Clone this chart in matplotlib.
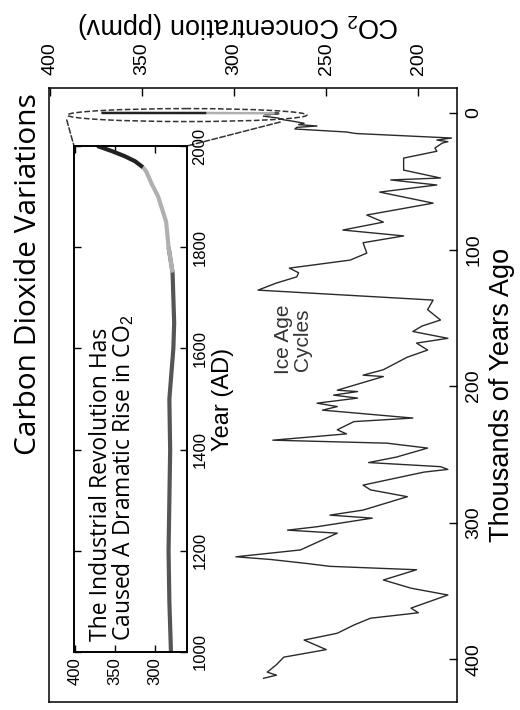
import matplotlib
matplotlib.use('Agg')
import matplotlib.pyplot as plt
from matplotlib.patches import Ellipse, ConnectionPatch

plt.rcParams['font.family'] = ['Liberation Sans', 'DejaVu Sans']
plt.rcParams['mathtext.fontset'] = 'custom'
plt.rcParams['mathtext.rm'] = 'Liberation Sans'

# Vostok ice core: thousands of years ago / CO2 (ppmv)
vostok_kyr = [2.3, 3.7, 5.0, 6.0, 7.5, 8.5, 9.5, 10.5, 11.7, 13.9, 15.0, 18.3,
              19.8, 21.0, 22.0, 25.6, 28.0, 33.0, 41.8, 47.6, 49.0, 52.7, 57.9,
              66.0, 74.7, 79.9, 85.7, 90.0, 95.0, 102.6, 107.7, 113.6, 117.0,
              120.0, 124.5, 129.7, 137.0, 144.0, 151.6, 156.0, 160.0, 165.0,
              168.5, 173.6, 178.8, 188.0, 192.0, 193.0, 203.0, 204.0, 206.6,
              208.8, 212.5, 215.0, 217.6, 223.4, 226.0, 232.0, 235.0, 239.6,
              241.8, 245.4, 252.0, 256.0, 259.0, 261.0, 263.0, 272.5, 276.0,
              281.0, 290.8, 294.5, 296.7, 303.0, 305.5, 307.7, 320.0, 325.0,
              327.0, 330.0, 332.0, 334.5, 342.0, 348.0, 353.0, 362.6, 366.0,
              370.0, 375.0, 381.0, 386.0, 393.0, 398.5, 404.0, 409.5, 411.7,
              414.0]
vostok_co2 = [284, 276, 273, 268, 262, 265, 255, 266, 267, 239, 234, 182,
              190, 184, 187, 191, 190, 208, 208, 188, 215, 190, 221,
              192, 228, 219, 241, 208, 230, 228, 237, 270, 265,
              266, 277, 287, 192, 195, 188, 198, 203, 184,
              201, 195, 206, 219, 230, 219, 244, 233, 246,
              233, 255, 244, 252, 203, 235, 244, 239, 279,
              217, 195, 212, 227, 188, 184, 197, 230, 226,
              206, 230, 248, 225, 255, 271, 244, 264, 299,
              280, 260, 248, 201, 219, 204, 184, 204, 200,
              226, 235, 244, 262, 250, 273, 277, 282, 277,
              284]

# recent record (year AD / CO2 ppmv)
core_year = [1000, 1100, 1200, 1300, 1400, 1500, 1600, 1650, 1700, 1750, 1800]
core_co2 = [280, 282, 283, 282, 281, 282, 277, 276, 277, 278, 283]
firn_year = [1750, 1800, 1850, 1900, 1925, 1950, 1958]
firn_co2 = [278, 283, 286, 296, 304, 311, 315]
mlo_year = [1958, 1970, 1980, 1990, 2000]
mlo_co2 = [315, 325, 338, 354, 372]

fig = plt.figure(figsize=(5.2, 7.1), dpi=100)

ax = fig.add_axes([0.094, 0.011, 0.785, 0.865])
ax.plot(vostok_co2, vostok_kyr, color='#2a2a2a', lw=1.0)
# the recent record squeezed at ~0 kyr
ax.plot(core_co2, [(1950 - y) / 1000 for y in core_year], color='#555555', lw=1.8, solid_capstyle='butt')
ax.plot(firn_co2, [(1950 - y) / 1000 for y in firn_year], color='#b0b0b0', lw=1.8, solid_capstyle='butt')
ax.plot(mlo_co2, [(1950 - y) / 1000 for y in mlo_year], color='#222222', lw=1.8, solid_capstyle='butt')

ax.set_xlim(400.5, 179)
ax.set_ylim(431.5, -18.3)
ax.set_xticks([400, 350, 300, 250, 200])
ax.set_yticks([0, 100, 200, 300, 400])
ax.xaxis.tick_top()
ax.xaxis.set_label_position('top')
ax.yaxis.tick_right()
ax.yaxis.set_label_position('right')
ax.tick_params(direction='in', length=6, width=1, labelsize=14)
ax.tick_params(axis='x', labelrotation=90, pad=9.5)
ax.tick_params(axis='y', labelrotation=90, pad=6)
for lab in ax.get_yticklabels():
    lab.set_va('center')
ax.set_xlabel('CO$_2$ Concentration (ppmv)', rotation=180, fontsize=19.5, labelpad=7)
ax.xaxis.label.set_x(0.465)
ax.set_ylabel('Thousands of Years Ago', rotation=90, fontsize=19.5, labelpad=5)
for sp in ax.spines.values():
    sp.set_linewidth(1.1)

ax.text(268, 166, 'Ice Age\nCycles', rotation=90, ha='center', va='center',
        fontsize=15, multialignment='center', color='#333333', linespacing=1.0)

ell = Ellipse((325.5, 1.5), width=130, height=9.5, fill=False, ls='--',
              lw=1.1, ec='#333333', clip_on=False)
ax.add_patch(ell)

# inset
ax_in = fig.add_axes([0.1423, 0.0817, 0.2173, 0.7127], zorder=3)
ax_in.plot(core_co2, core_year, color='#555555', lw=3, solid_capstyle='butt')
ax_in.plot(firn_co2, firn_year, color='#b0b0b0', lw=3, solid_capstyle='butt')
ax_in.plot(mlo_co2, mlo_year, color='#222222', lw=3, solid_capstyle='butt')
ax_in.set_xlim(401, 260)
ax_in.set_ylim(1000, 2000)
ax_in.set_xticks([400, 350, 300])
ax_in.set_yticks([1000, 1200, 1400, 1600, 1800, 2000])
ax_in.yaxis.set_label_position('right')
ax_in.tick_params(direction='in', length=5, width=1, labelsize=12,
                  top=True, bottom=True, left=True, right=True,
                  labelleft=False, labelright=True)
ax_in.tick_params(axis='x', labelrotation=90, pad=4)
ax_in.tick_params(axis='y', labelrotation=90, pad=4)
for lab in ax_in.get_yticklabels():
    lab.set_va('center')
ax_in.set_ylabel('Year (AD)', rotation=90, fontsize=17, labelpad=3)
for sp in ax_in.spines.values():
    sp.set_linewidth(1.4)
ax_in.text(0.13, 0.022, 'The Industrial Revolution Has\nCaused A Dramatic Rise in CO$_2$',
           transform=ax_in.transAxes, rotation=90, rotation_mode='anchor',
           ha='left', va='top', fontsize=16.5, family=['Open Sans', 'DejaVu Sans'],
           linespacing=0.9)

for xa, xb in [((390.8, 5.1), (0, 1)), ((275, 6.6), (1, 1))]:
    con = ConnectionPatch(xyA=xa, coordsA=ax.transData, xyB=xb, coordsB=ax_in.transAxes,
                          ls='--', lw=1.1, color='#333333')
    fig.add_artist(con)

fig.text(0.054, 0.614, 'Carbon Dioxide Variations', rotation=90, ha='center',
         va='center', fontsize=21.5, family=['Open Sans', 'DejaVu Sans'])

fig.savefig('out.png', dpi=100)
